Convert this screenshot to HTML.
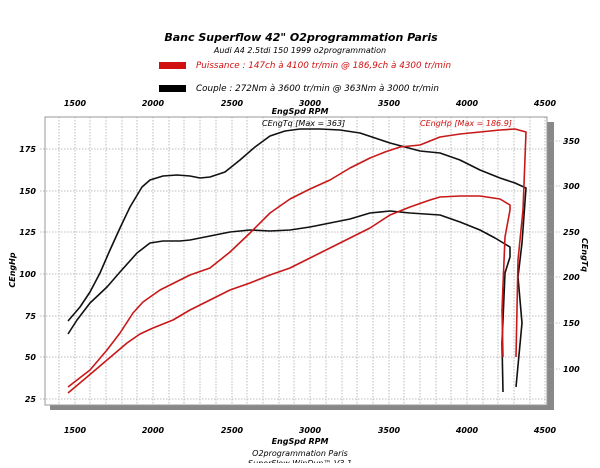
<!DOCTYPE html>
<html><head><meta charset="utf-8"><style>
body{margin:0;background:#fff;width:600px;height:463px;overflow:hidden}
text{font-family:"DejaVu Sans","Liberation Sans",sans-serif;font-style:italic}
</style></head><body>
<svg width="600" height="463" viewBox="0 0 600 463" xmlns="http://www.w3.org/2000/svg">
<text x="301" y="41" text-anchor="middle" font-size="11" font-weight="bold" font-family="Liberation Sans">Banc Superflow 42" O2programmation Paris</text>
<text x="300" y="53" text-anchor="middle" font-size="8">Audi A4 2.5tdi 150 1999 o2programmation</text>
<rect x="159" y="62" width="27" height="7" fill="#d01010"/>
<text x="196" y="68" font-size="8.8" fill="#d01010">Puissance : 147ch à 4100 tr/min @ 186,9ch à 4300 tr/min</text>
<rect x="159" y="85" width="27" height="7" fill="#000"/>
<text x="196" y="91" font-size="8.8">Couple : 272Nm à 3600 tr/min @ 363Nm à 3000 tr/min</text>
<text x="300" y="114" text-anchor="middle" font-size="8" font-weight="bold">EngSpd RPM</text>
<g font-size="8" font-weight="bold" text-anchor="middle">
<text x="75" y="106">1500</text><text x="153" y="106">2000</text><text x="232" y="106">2500</text><text x="310" y="106">3000</text><text x="389" y="106">3500</text><text x="467" y="106">4000</text><text x="545" y="106">4500</text>
<text x="75" y="433">1500</text><text x="153" y="433">2000</text><text x="232" y="433">2500</text><text x="310" y="433">3000</text><text x="389" y="433">3500</text><text x="467" y="433">4000</text><text x="545" y="433">4500</text>
</g>
<text x="300" y="444" text-anchor="middle" font-size="8" font-weight="bold">EngSpd RPM</text>
<text x="300" y="456" text-anchor="middle" font-size="8">O2programmation Paris</text>
<text x="300" y="466" text-anchor="middle" font-size="8">SuperFlow WinDyn™ V3.1</text>
<rect x="50" y="122" width="504" height="288" fill="#888"/>
<rect x="45" y="117" width="502" height="288" fill="#fff" stroke="#999" stroke-width="1"/>
<g stroke="#aaa" stroke-width="0.8" stroke-dasharray="1.5,1.5">
<path d="M59 117V405M75 117V405M90 117V405M106 117V405M122 117V405M137 117V405M153 117V405M169 117V405M184 117V405M200 117V405M216 117V405M232 117V405M247 117V405M263 117V405M279 117V405M294 117V405M310 117V405M326 117V405M342 117V405M357 117V405M373 117V405M389 117V405M404 117V405M420 117V405M436 117V405M451 117V405M467 117V405M483 117V405M498 117V405M514 117V405M530 117V405M545 117V405"/>
<path d="M40 149H547M40 191H547M40 232H547M40 274H547M40 316H547M40 357H547M40 399H547"/>
<path d="M547 141H560M547 186H560M547 232H560M547 277H560M547 323H560M547 369H560"/>
</g>
<g font-size="8" font-weight="bold" text-anchor="end">
<text x="36" y="152">175</text><text x="36" y="194">150</text><text x="36" y="235">125</text><text x="36" y="277">100</text><text x="36" y="319">75</text><text x="36" y="360">50</text><text x="36" y="402">25</text>
</g>
<g font-size="8" font-weight="bold">
<text x="563" y="144">350</text><text x="563" y="189">300</text><text x="563" y="235">250</text><text x="563" y="280">200</text><text x="563" y="326">150</text><text x="563" y="372">100</text>
</g>
<text transform="translate(15,270) rotate(-90)" text-anchor="middle" font-size="8" font-weight="bold">CEngHp</text>
<text transform="translate(582,255) rotate(90)" text-anchor="middle" font-size="8" font-weight="bold">CEngTq</text>
<text x="262" y="126" font-size="8">CEngTq [Max = 363]</text>
<text x="420" y="126" font-size="8" fill="#d01010">CEngHp [Max = 186.9]</text>
<g fill="none" stroke-width="1.6" stroke-linejoin="round">
<path stroke="#111" d="M68 321L80 307L90 292L100 273L110 250L120 228L130 207L142 187L150 180L163 176L177 175L190 176L200 178L210 177L225 172L240 160L255 147L270 136L285 131L300 129L320 129L340 130L360 133L375 138L390 143L405 147L420 151L440 153L460 160L480 170L500 178L515 183L526 188L522 243L518 277L522 323L516 387"/>
<path stroke="#111" d="M68 334L77 320L90 303L107 287L120 272L137 253L150 243L163 241L180 241L190 240L210 236L230 232L250 230L270 231L290 230L310 227L330 223L350 219L370 213L390 211L410 213L440 215L460 222L480 230L495 238L505 244L510 247L510 257L505 273L502 343L503 392"/>
<path stroke="#c81818" d="M68 387L90 370L107 350L120 333L133 313L143 302L160 290L180 280L190 275L210 268L230 252L250 233L270 213L290 199L310 189L330 180L350 168L370 158L385 152L400 147L420 145L440 137L460 134L480 132L500 130L515 129L526 132L523 210L518 260L516 357"/>
<path stroke="#c81818" d="M68 393L87 377L107 360L127 343L140 334L153 328L173 320L190 310L210 300L230 290L250 283L270 275L290 268L310 258L330 248L350 238L370 228L390 215L410 207L430 200L440 197L460 196L480 196L500 199L510 205L510 210L505 237L502 310L503 357"/>
</g>
</svg>
</body></html>
